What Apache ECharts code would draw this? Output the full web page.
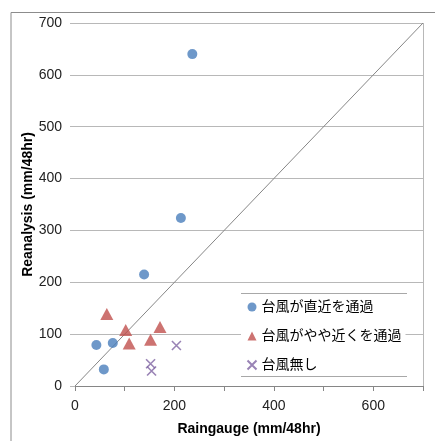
<!DOCTYPE html>
<html>
<head>
<meta charset="utf-8">
<script src="https://cdn.jsdelivr.net/npm/echarts@6/dist/echarts.min.js"></script>
<style>
  html, body { margin: 0; padding: 0; background: #fff; }
  #chart { width: 435px; height: 441px; }
</style>
</head>
<body>
<div id="chart"></div>
<script>
// series names (legend)
const seriesNames = ["台風が直近を通過", "台風がやや近くを通過", "台風無し"];

// [raingauge, reanalysis] pairs
const directPass = [[236, 640], [213, 324], [139, 215], [43, 79], [76, 83], [58, 32]];
const nearPass = [[64, 139], [102, 108], [109, 82], [152, 89], [171, 114]];
const noTyphoon = [[204, 78], [152, 43], [154, 29]];
const oneToOne = [[0, 0], [700, 700]];

const xTicks = [0, 200, 400, 600];

const font = "'Liberation Sans', 'Noto Sans CJK JP', sans-serif";
const crossPath = "path://M0,0L10,10M10,0L0,10";
const gridGray = "#b8b8b8";

const chart = echarts.init(document.getElementById("chart"));

chart.setOption({
  animation: false,
  textStyle: { fontFamily: font },
  grid: { left: 75, right: 12, top: 23, bottom: 50, show: false },
  xAxis: {
    type: "value",
    min: 0,
    max: 700,
    interval: 100,
    name: "Raingauge (mm/48hr)",
    nameLocation: "middle",
    nameGap: 36,
    nameMoveOverlap: false,
    nameTextStyle: { fontFamily: font, fontWeight: "bold", fontSize: 14, color: "#000" },
    axisLine: { lineStyle: { color: "#868686" } },
    axisTick: { length: 5, lineStyle: { color: "#868686" },
      interval: (i, v) => xTicks.includes(v) },
    axisLabel: { color: "#222", fontSize: 14, margin: 13,
      formatter: (v) => (xTicks.includes(v) ? String(v) : "") },
    splitLine: { show: false }
  },
  yAxis: {
    type: "value",
    min: 0,
    max: 700,
    interval: 100,
    name: "Reanalysis (mm/48hr)",
    nameLocation: "middle",
    nameGap: 40,
    nameMoveOverlap: false,
    nameTextStyle: { fontFamily: font, fontWeight: "bold", fontSize: 14, color: "#000" },
    axisLine: { show: false },
    axisTick: { show: true, length: 5, lineStyle: { color: gridGray } },
    axisLabel: { color: "#222", fontSize: 14, margin: 13 },
    splitLine: { show: true, lineStyle: { color: gridGray, width: 1 } }
  },
  legend: {
    orient: "vertical",
    left: 241,
    top: 294,
    width: 166,
    padding: [5, 4, 10, 4],
    itemGap: 13,
    itemWidth: 9,
    itemHeight: 9,
    backgroundColor: "#fff",
    textStyle: { fontFamily: font, fontSize: 14, color: "#000", lineHeight: 16 },
    data: [
      { name: seriesNames[0], icon: "circle" },
      { name: seriesNames[1], icon: "triangle" },
      { name: seriesNames[2], icon: crossPath }
    ]
  },
  graphic: [
    { type: "rect", shape: { x: 11, y: 12.5, width: 440, height: 440 },
      style: { fill: "none", stroke: "#8c8c8c", lineWidth: 1 }, silent: true },
    { type: "line", shape: { x1: 423.5, y1: 23, x2: 423.5, y2: 391 },
      style: { stroke: gridGray, lineWidth: 1 }, silent: true },
    { type: "line", shape: { x1: 241, y1: 293.5, x2: 407, y2: 293.5 },
      style: { stroke: "#a8a8a8", lineWidth: 1 }, z: 100 },
    { type: "line", shape: { x1: 241, y1: 376.5, x2: 407, y2: 376.5 },
      style: { stroke: "#a8a8a8", lineWidth: 1 }, z: 100 }
  ],
  series: [
    {
      name: "1:1",
      type: "line",
      data: oneToOne,
      showSymbol: false,
      silent: true,
      lineStyle: { color: "#868686", width: 1 },
      z: 1
    },
    {
      name: seriesNames[0],
      type: "scatter",
      data: directPass,
      symbol: "circle",
      symbolSize: 10,
      itemStyle: { color: "#4a7ebb" },
      z: 3
    },
    {
      name: seriesNames[1],
      type: "scatter",
      data: nearPass,
      symbol: "triangle",
      symbolSize: [13, 12],
      itemStyle: { color: "#c0504d" },
      z: 3
    },
    {
      name: seriesNames[2],
      type: "scatter",
      data: noTyphoon,
      symbol: crossPath,
      symbolSize: 9,
      itemStyle: { color: "none", borderColor: "#8064a2", borderWidth: 1.6 },
      z: 3
    }
  ]
});
</script>
</body>
</html>
